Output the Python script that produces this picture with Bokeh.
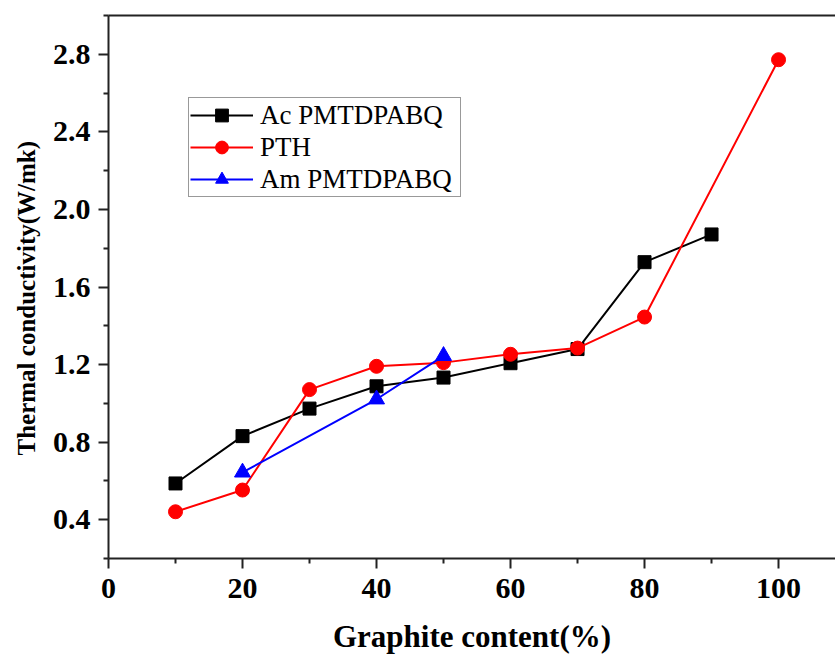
from bokeh.plotting import figure
from bokeh.models import (FixedTicker, LinearAxis, Legend, LegendItem, Range1d,
                          PrintfTickFormatter, Title)
from bokeh.embed import file_html
from bokeh.resources import INLINE

# ---- data ----
ac_x = [10, 20, 30, 40, 50, 60, 70, 80, 90]
ac_y = [0.587, 0.831, 0.973, 1.088, 1.133, 1.207, 1.280, 1.728, 1.871]

pth_x = [10, 20, 30, 40, 50, 60, 70, 80, 100]
pth_y = [0.441, 0.553, 1.071, 1.191, 1.210, 1.253, 1.285, 1.445, 2.772]

am_x = [20, 40, 50]
am_y = [0.644, 1.021, 1.245]

x_ticks = [0, 20, 40, 60, 80, 100]
x_minor = [10, 30, 50, 70, 90]
y_ticks = [0.4, 0.8, 1.2, 1.6, 2.0, 2.4, 2.8]
y_minor = [0.2, 0.6, 1.0, 1.4, 1.8, 2.2, 2.6, 3.0]

FONT = "Liberation Serif"

p = figure(width=835, height=662, output_backend="svg", toolbar_location=None,
           x_range=Range1d(0, 108.5), y_range=Range1d(0.2, 3.0),
           min_border_left=108, min_border_top=15, min_border_bottom=104,
           min_border_right=0)
p.outline_line_color = None
p.xgrid.visible = False
p.ygrid.visible = False
p.background_fill_color = "white"

r1l = p.line(ac_x, ac_y, line_color="black", line_width=2)
r1m = p.scatter(ac_x, ac_y, marker="square", size=13, fill_color="black", line_color="black")
r2l = p.line(pth_x, pth_y, line_color="#ff0000", line_width=2)
r2m = p.scatter(pth_x, pth_y, marker="circle", size=14, fill_color="#ff0000", line_color="#ff0000")
r3l = p.line(am_x, am_y, line_color="#0000ff", line_width=2)
r3m = p.scatter(am_x, am_y, marker="triangle", size=16, fill_color="#0000ff", line_color="#0000ff")

for ax in (p.xaxis[0], p.yaxis[0]):
    ax.axis_line_width = 2
    ax.axis_line_color = "#222222"
    ax.major_tick_line_width = 2
    ax.minor_tick_line_width = 2
    ax.major_tick_line_color = "#222222"
    ax.minor_tick_line_color = "#222222"
    ax.major_tick_out = 10
    ax.major_tick_in = 0
    ax.minor_tick_out = 5
    ax.minor_tick_in = 0
    ax.major_label_text_font = FONT
    ax.major_label_text_font_style = "bold"
    ax.major_label_text_font_size = "30px"
    ax.major_label_text_color = "black"
    ax.axis_label_text_font = FONT
    ax.axis_label_text_font_style = "bold"
    ax.axis_label_text_color = "black"

p.xaxis[0].ticker = FixedTicker(ticks=x_ticks, minor_ticks=x_minor)
p.yaxis[0].ticker = FixedTicker(ticks=y_ticks, minor_ticks=y_minor)
p.yaxis[0].formatter = PrintfTickFormatter(format="%.1f")
p.xaxis[0].axis_label = "Graphite content(%)"
p.xaxis[0].axis_label_text_font_size = "31px"
p.xaxis[0].major_label_standoff = 10
p.xaxis[0].axis_label_standoff = 18
p.yaxis[0].major_label_standoff = 8

# y-axis title, a little below the frame centre as in the reference
ytitle = Title(text="Thermal conductivity(W/mk)", align="left", offset=103,
               standoff=20, text_font=FONT, text_font_style="bold",
               text_font_size="25px", text_color="black")
p.add_layout(ytitle, "left")

top = LinearAxis(ticker=FixedTicker(ticks=[]), axis_line_width=2, axis_line_color="#222222",
                 major_tick_out=0, minor_tick_out=0, major_label_text_font_size="0px")
p.add_layout(top, "above")

legend = Legend(items=[
    LegendItem(label="Ac PMTDPABQ", renderers=[r1l, r1m]),
    LegendItem(label="PTH", renderers=[r2l, r2m]),
    LegendItem(label="Am PMTDPABQ", renderers=[r3l, r3m]),
], location=(80, 361))
legend.label_text_font = FONT
legend.label_text_font_size = "27px"
legend.label_text_color = "black"
legend.glyph_width = 63
legend.glyph_height = 32
legend.label_height = 32
legend.label_width = 199
legend.label_standoff = 7
legend.spacing = 0
legend.padding = 1
legend.margin = 0
legend.border_line_color = "#333333"
legend.border_line_width = 1.5
legend.background_fill_alpha = 1
p.add_layout(legend, "center")

open("out.html", "w").write(file_html(p, INLINE))
